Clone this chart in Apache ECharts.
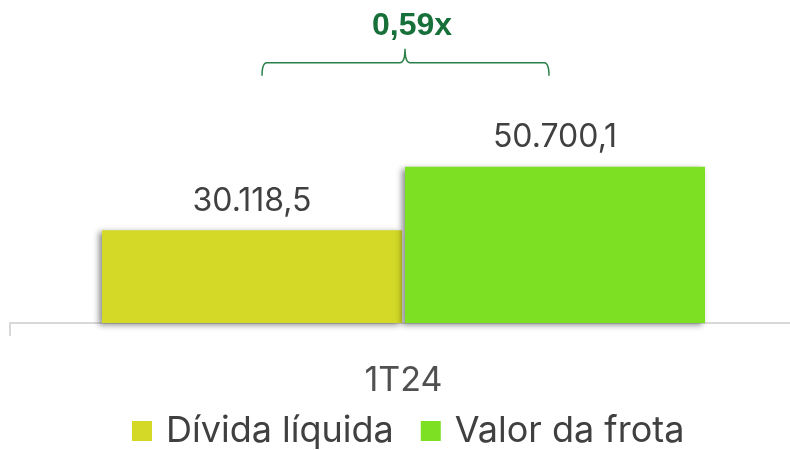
<!DOCTYPE html>
<html>
<head>
<meta charset="utf-8">
<script src="https://cdn.jsdelivr.net/npm/echarts@6/dist/echarts.min.js"></script>
<style>
  html, body { margin: 0; padding: 0; background: #ffffff; overflow: hidden; }
  #chart { width: 797px; height: 450px; }
</style>
</head>
<body>
<div id="chart"></div>
<script>
// Quarter shown on the category axis
const categories = ['1T24'];
// Series names (legend) and their values
const seriesNames = ['Dívida líquida', 'Valor da frota'];
const netDebt = [30118.5];
const fleetValue = [50700.1];
const seriesColors = ['#D3D926', '#7EE022'];

const TEXT_FONT = 'Inter';
const fmtBR = v => v.toLocaleString('pt-BR', { minimumFractionDigits: 1, maximumFractionDigits: 1 });

const chart = echarts.init(document.getElementById('chart'), null, { renderer: 'canvas' });

const barShadow = {
  shadowColor: 'rgba(0,0,0,0.45)',
  shadowBlur: 6,
  shadowOffsetX: -3,
  shadowOffsetY: 2
};

const valueLabel = {
  show: true,
  position: 'top',
  distance: 13,
  color: '#404040',
  fontFamily: TEXT_FONT,
  fontSize: 32,
  formatter: p => fmtBR(p.value)
};

chart.setOption({
  animation: false,
  backgroundColor: '#ffffff',
  grid: { left: 10, right: 0, top: 138, bottom: 127, containLabel: false },
  legend: {
    data: seriesNames,
    left: 127,
    top: 408,
    icon: 'rect',
    itemWidth: 20,
    itemHeight: 20,
    itemGap: 27,
    textStyle: { color: '#404040', fontFamily: TEXT_FONT, fontSize: 36, padding: [0, 0, 0, 9] }
  },
  xAxis: {
    type: 'category',
    data: categories,
    axisLine: { show: true, lineStyle: { color: '#D9D9D9', width: 2 } },
    axisTick: { show: true, length: 13, lineStyle: { color: '#D9D9D9', width: 2 } },
    axisLabel: { color: '#505050', fontFamily: TEXT_FONT, fontSize: 34, margin: 41 }
  },
  yAxis: {
    type: 'value',
    min: 0,
    max: 60000,
    show: false,
    splitLine: { show: false }
  },
  series: [
    {
      name: seriesNames[0],
      type: 'bar',
      data: netDebt,
      barWidth: 300,
      barGap: '1%',
      itemStyle: Object.assign({ color: seriesColors[0] }, barShadow),
      label: valueLabel
    },
    {
      name: seriesNames[1],
      type: 'bar',
      data: fleetValue,
      barWidth: 300,
      barGap: '1%',
      itemStyle: Object.assign({ color: seriesColors[1] }, barShadow),
      label: valueLabel
    }
  ]
});

// Sample a quadratic curve into polyline points (start point excluded)
function quad(p0, p1, p2, n) {
  const pts = [];
  for (let i = 1; i <= n; i++) {
    const t = i / n, u = 1 - t;
    pts.push([
      u * u * p0[0] + 2 * u * t * p1[0] + t * t * p2[0],
      u * u * p0[1] + 2 * u * t * p1[1] + t * t * p2[1]
    ]);
  }
  return pts;
}

// Brace spanning both bars with the debt / fleet ratio above it
(function drawRatioBrace() {
  const model = chart.getModel();
  const l0 = model.getSeriesByIndex(0).getData().getItemLayout(0);
  const l1 = model.getSeriesByIndex(1).getData().getItemLayout(0);
  const c0 = l0.x + l0.width / 2;
  const c1 = l1.x + l1.width / 2;
  const topY = Math.min(l0.y, l0.y + l0.height, l1.y, l1.y + l1.height);
  const left = c0 + 10;
  const right = c1 - 6;
  const mid = (l0.x + l0.width + l1.x) / 2 + 1.5;
  const yEnd = topY - 91;
  const yBar = topY - 104;
  const yTip = topY - 118;
  const r = 5;

  let pts = [[left, yEnd]];
  pts = pts.concat(quad([left, yEnd], [left, yBar], [left + r, yBar], 6));
  pts.push([mid - r, yBar]);
  pts = pts.concat(quad([mid - r, yBar], [mid, yBar], [mid, yTip], 6));
  pts = pts.concat(quad([mid, yTip], [mid, yBar], [mid + r, yBar], 6));
  pts.push([right - r, yBar]);
  pts = pts.concat(quad([right - r, yBar], [right, yBar], [right, yEnd], 6));

  const ratio = netDebt[0] / fleetValue[0];
  const ratioText = ratio.toFixed(2).replace('.', ',') + 'x';
  chart.setOption({
    graphic: [
      {
        type: 'polyline',
        shape: { points: pts },
        style: { fill: 'none', stroke: '#2A7F47', lineWidth: 1.5 }
      },
      {
        type: 'text',
        x: mid + 7,
        y: topY - 125,
        style: {
          text: ratioText,
          fill: '#17703A',
          font: 'bold 32px "Liberation Sans", Arial, sans-serif',
          align: 'center',
          verticalAlign: 'bottom'
        }
      }
    ]
  });
})();
</script>
</body>
</html>
